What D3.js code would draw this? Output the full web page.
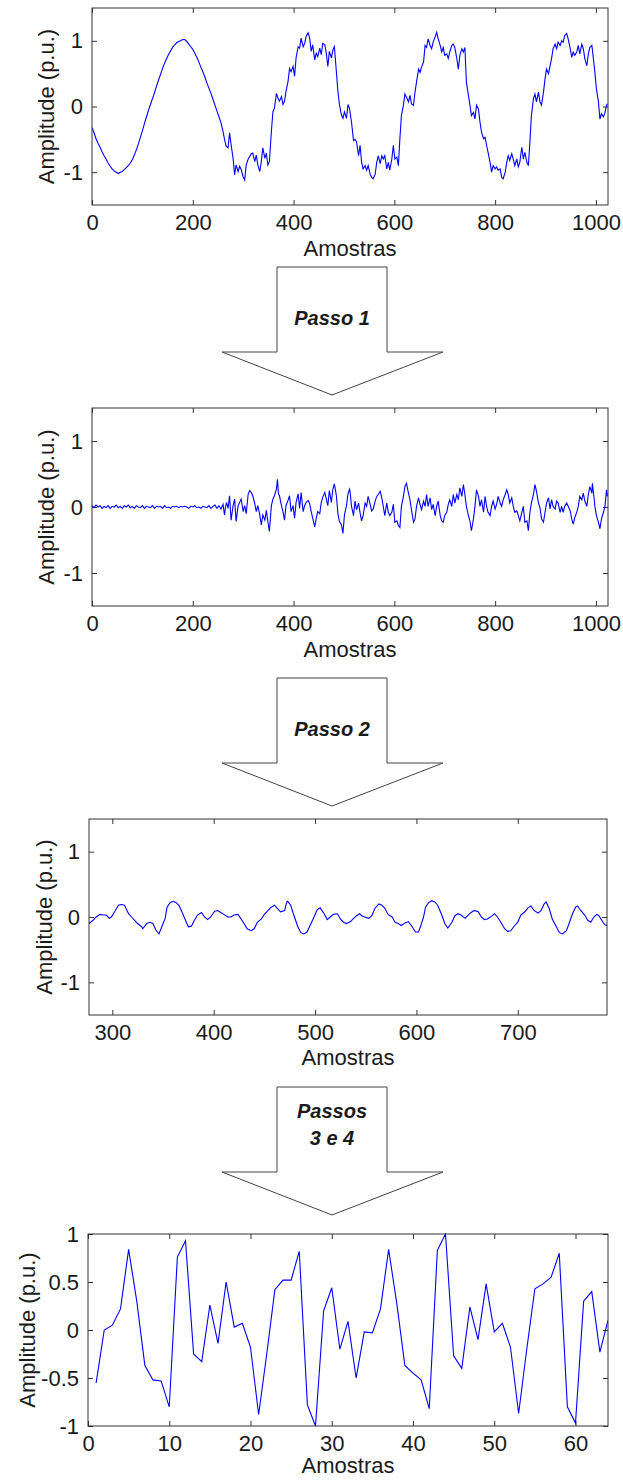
<!DOCTYPE html>
<html>
<head>
<meta charset="utf-8">
<script src="https://cdn.jsdelivr.net/npm/d3@7"></script>
<style>
body { margin: 0; background: #fff; }
text { font-family: "Liberation Sans", Arial, sans-serif; fill: #1a1a1a; }
</style>
</head>
<body>
<div id="chart"></div>
<script>
// ---- data: [sample, amplitude] ----
var rawSignal = [[0,-0.32],[4,-0.4],[8,-0.49],[12,-0.56],[16,-0.62],[20,-0.69],[24,-0.75],[28,-0.8],[32,-0.86],[36,-0.91],[40,-0.95],[44,-0.98],[48,-1.0],[52,-1.02],[56,-1.0],[60,-0.99],[64,-0.96],[68,-0.93],[72,-0.9],[76,-0.86],[80,-0.81],[84,-0.74],[88,-0.66],[92,-0.57],[96,-0.47],[100,-0.37],[104,-0.26],[108,-0.16],[112,-0.06],[116,0.03],[120,0.12],[124,0.21],[128,0.31],[132,0.4],[136,0.49],[140,0.58],[144,0.66],[148,0.73],[152,0.79],[156,0.85],[160,0.9],[164,0.94],[168,0.97],[172,0.99],[176,1.0],[180,1.02],[184,1.02],[188,0.99],[192,0.95],[196,0.91],[200,0.87],[204,0.81],[208,0.75],[212,0.68],[216,0.6],[220,0.53],[224,0.45],[228,0.36],[232,0.28],[236,0.2],[240,0.11],[244,0.02],[248,-0.07],[252,-0.16],[256,-0.25],[260,-0.38],
  [263,-0.5],[266,-0.6],[270,-0.63],[273,-0.4],[276,-0.58],[280,-0.79],[283,-1.04],[286,-0.89],[290,-0.99],[293,-0.91],[296,-0.96],[300,-1.07],[303,-1.12],[306,-0.89],[310,-0.8],[313,-0.76],[316,-0.72],[319,-0.71],[323,-0.84],[326,-0.74],[329,-0.89],[333,-0.99],[336,-0.84],[339,-0.63],[343,-0.79],[346,-0.71],[349,-0.89],[352,-0.84],[356,-0.38],[359,-0.08],[362,-0.03],[366,0.2],[369,0.13],[372,0.08],[376,0.15],[379,0.03],[382,0.08],[385,0.23],[389,0.38],[392,0.58],[395,0.53],[399,0.61],[402,0.46],[405,0.74],[409,0.91],[412,0.89],[415,1.04],[419,0.91],[422,0.96],[425,1.07],[429,1.12],[432,1.04],[435,0.84],[438,0.94],[442,0.71],[445,0.81],[448,0.76],[452,0.89],[455,0.79],[458,0.96],[462,0.94],[465,0.81],[468,0.61],[471,0.84],[475,0.74],[478,0.86],[481,0.91],[485,0.53],[488,0.23],[491,0.03],[495,-0.13],[498,-0.18],[501,-0.08],[505,-0.18],[508,0.03],[511,-0.03],
  [515,-0.24],[519,-0.52],[522,-0.5],[525,-0.54],[529,-0.75],[532,-0.59],[535,-0.85],[538,-0.95],[542,-0.9],[545,-0.97],[548,-0.9],[552,-1.03],[555,-1.08],[558,-1.1],[562,-1.03],[565,-0.85],[568,-0.75],[572,-0.87],[575,-0.75],[578,-0.8],[581,-0.75],[585,-0.95],[588,-0.85],[591,-0.97],[595,-0.8],[598,-0.59],[601,-0.8],[605,-0.77],[608,-0.9],[611,-0.49],[614,-0.14],[618,0.02],[621,0.19],[624,0.14],[628,0.07],[631,0.17],[634,0.04],[638,0.02],[641,0.22],[644,0.37],[648,0.57],[651,0.52],[654,0.6],[658,0.68],[661,0.93],[664,0.9],[667,1.03],[671,0.93],[674,0.88],[677,0.98],[681,1.06],[684,1.13],[687,1.03],[691,0.93],[694,0.83],[697,0.9],[700,0.78],[704,0.8],[707,0.73],[710,0.83],[714,0.93],[717,0.95],[720,0.9],[724,0.73],[727,0.57],[730,0.78],[734,0.88],[737,0.83],[740,0.9],[743,0.37],[747,0.17],[750,0.02],[753,-0.14],[757,-0.09],[760,-0.19],[763,0.02],[767,-0.04],
  [770,-0.24],[773,-0.39],[777,-0.49],[780,-0.47],[783,-0.59],[786,-0.7],[790,-0.85],[793,-1.0],[796,-0.9],[800,-0.95],[803,-0.92],[806,-0.97],[810,-0.95],[813,-1.08],[816,-1.1],[820,-1.0],[823,-0.85],[826,-0.75],[829,-0.82],[833,-0.72],[836,-0.8],[839,-0.9],[843,-0.8],[846,-0.92],[849,-0.85],[853,-0.62],[856,-0.8],[859,-0.7],[863,-0.85],[866,-0.9],[869,-0.54],[872,-0.14],[876,0.12],[879,0.19],[882,0.07],[886,0.22],[889,0.07],[892,0.02],[896,0.22],[899,0.42],[902,0.57],[906,0.5],[909,0.62],[912,0.73],[915,0.88],[919,0.95],[922,0.88],[925,0.98],[929,0.93],[932,1.0],[935,0.98],[938,1.08],[942,1.11],[945,1.03],[949,0.88],[952,0.75],[955,0.83],[958,0.78],[962,0.83],[965,0.93],[968,0.8],[972,0.95],[975,0.88],[978,0.73],[982,0.62],[985,0.8],[988,0.9],[992,0.93],[995,0.73],[998,0.52],[1001,0.27],[1005,0.07],[1008,-0.19],[1011,-0.11],[1015,-0.16],[1018,-0.09],[1021,0.02],[1023,0.04]];

var step1Signal = [[0,0.02],[4,-0.01],[8,0.03],[12,0.0],[16,0.02],[20,-0.02],[24,0.01],[28,-0.01],[32,0.02],[36,-0.02],[40,0.01],[44,0.0],[48,0.03],[52,-0.01],[56,0.01],[60,-0.02],[64,0.02],[68,0.0],[72,0.03],[76,-0.01],[80,0.01],[84,-0.02],[88,0.02],[92,0.0],[96,-0.01],[100,0.02],[104,-0.02],[108,0.01],[112,0.0],[116,-0.01],[120,0.02],[124,-0.02],[128,0.01],[132,0.0],[136,0.01],[140,-0.02],[144,0.02],[148,-0.01],[152,0.0],[156,-0.02],[160,0.01],[164,0.0],[168,0.01],[172,-0.01],[176,0.01],[180,0.0],[184,0.01],[188,0.0],[192,-0.02],[196,0.01],[200,0.0],[204,0.02],[208,-0.01],[212,0.0],[216,-0.02],[220,0.01],[224,0.0],[228,-0.01],[232,0.02],[236,-0.02],[240,0.01],[244,0.03],[248,-0.02],[252,0.02],[256,-0.03],[260,0.04],
  [263,-0.12],[265,0.0],[267,0.07],[270,-0.02],[273,0.17],[276,-0.2],[280,0.02],[283,0.12],[286,-0.22],[290,0.02],[293,0.07],[296,0.12],[300,-0.07],[303,0.02],[306,-0.1],[310,0.2],[313,0.25],[316,0.22],[319,0.17],[323,0.05],[326,-0.07],[329,0.02],[333,-0.12],[336,-0.27],[339,-0.12],[343,-0.2],[346,-0.05],[349,-0.22],[352,-0.37],[356,0.02],[359,0.12],[362,0.17],[366,0.27],[368,0.42],[370,0.2],[372,0.17],[376,0.02],[379,-0.07],[382,-0.2],[385,0.02],[389,0.1],[392,0.17],[395,-0.07],[399,0.02],[402,-0.17],[405,0.07],[409,0.2],[412,-0.02],[415,0.22],[419,-0.07],[422,0.02],[425,0.07],[429,0.1],[432,0.05],[435,-0.07],[438,-0.17],[442,-0.3],[445,-0.17],[448,-0.07],[452,-0.1],[455,0.07],[458,0.15],[462,0.22],[465,0.12],[468,0.02],[471,0.25],[475,0.07],[478,0.27],[481,0.35],[485,0.17],[488,-0.1],[491,-0.22],[495,-0.27],[498,-0.4],[501,-0.12],[505,0.02],[508,0.2],[511,0.27],
  [512,0.24],[515,0.01],[519,-0.13],[522,0.09],[525,-0.04],[529,0.06],[532,-0.09],[535,-0.21],[538,-0.13],[542,0.06],[545,0.01],[548,0.16],[552,0.04],[555,-0.06],[558,-0.03],[562,0.09],[565,0.16],[568,0.19],[572,0.24],[575,0.14],[578,0.01],[581,-0.13],[585,0.06],[588,-0.08],[591,-0.13],[595,-0.08],[598,0.04],[601,-0.23],[605,-0.21],[608,-0.28],[611,-0.31],[614,0.01],[618,0.16],[621,0.31],[624,0.36],[628,0.21],[631,0.11],[634,-0.04],[638,-0.23],[641,-0.18],[644,0.01],[648,0.14],[651,0.04],[654,-0.04],[658,0.09],[661,0.01],[664,0.19],[667,0.01],[671,0.14],[674,-0.04],[677,0.04],[681,-0.13],[684,0.01],[687,0.09],[691,-0.13],[694,-0.21],[697,-0.23],[700,-0.13],[704,-0.08],[707,0.04],[710,0.11],[714,0.01],[717,0.19],[720,0.06],[724,0.19],[727,0.11],[730,0.29],[734,0.16],[737,0.34],[740,0.19],[743,0.01],[747,-0.13],[750,-0.21],[753,-0.36],[757,-0.18],[760,0.01],[763,0.26],[767,0.16],
  [770,0.01],[773,0.11],[777,-0.08],[780,0.16],[783,0.01],[786,-0.08],[790,-0.13],[793,0.01],[796,0.09],[800,-0.03],[803,0.04],[806,0.16],[810,0.06],[813,0.01],[816,0.11],[820,0.19],[823,0.26],[826,0.19],[829,0.06],[833,0.14],[836,0.01],[839,-0.08],[843,-0.06],[846,-0.13],[849,-0.21],[853,-0.08],[856,0.01],[859,-0.23],[863,-0.21],[866,-0.36],[869,-0.08],[872,0.06],[876,0.19],[879,0.34],[882,0.24],[886,0.06],[889,-0.01],[892,-0.18],[896,-0.23],[899,-0.08],[902,0.06],[906,0.14],[909,-0.03],[912,0.11],[915,0.01],[919,-0.03],[922,0.09],[925,0.06],[929,-0.08],[932,0.01],[935,-0.08],[938,0.01],[942,0.06],[945,0.01],[949,-0.06],[952,-0.18],[955,-0.26],[958,-0.16],[962,-0.08],[965,0.01],[968,0.16],[972,0.11],[975,0.21],[978,0.09],[982,0.01],[985,0.19],[988,0.31],[992,0.21],[993,0.36],[996,0.16],[998,0.01],[1001,-0.13],[1005,-0.23],[1008,-0.33],[1011,-0.18],[1015,-0.08],[1018,0.01],[1021,0.26],[1023,0.16]];

var step2Signal = [[277,-0.1],[281,-0.05],[284,0],[288,0.04],[291,0.03],[294,0.03],[297,-0.02],[299,0.0],[303,0.1],[306,0.18],[309,0.19],[312,0.18],[316,0.05],[319,0.0],[322,-0.05],[325,-0.1],[329,-0.15],[330,-0.18],[334,-0.1],[337,-0.08],[340,-0.1],[343,-0.2],[346,-0.26],[348,-0.18],[352,-0.03],[354,0.15],[357,0.22],[360,0.24],[363,0.22],[366,0.17],[370,0.03],[373,-0.08],[375,-0.15],[378,-0.14],[381,-0.05],[384,0.03],[388,0.07],[391,0.0],[394,-0.04],[397,0.0],[401,0.09],[404,0.1],[407,0.07],[410,0.04],[414,0.0],[417,0.0],[420,0.03],[424,0.04],[427,-0.03],[430,-0.1],[433,-0.18],[437,-0.21],[440,-0.18],[443,-0.08],[447,-0.03],[450,0.04],[453,0.09],[456,0.14],[460,0.18],[463,0.13],[466,0.08],[470,0.1],[472,0.23],[473,0.24],[476,0.18],[479,0.03],[483,-0.15],[486,-0.24],[489,-0.26],[492,-0.23],[496,-0.1],[499,0.0],[502,0.11],[505,0.14],[509,0.05],[512,-0.04],[515,0.0],[518,0.04],[522,0.05],[525,-0.03],[528,-0.08],[531,-0.1],
  [535,-0.07],[538,-0.02],[541,0.02],[544,0.05],[546,0.02],[549,0.0],[553,-0.02],[556,0.02],[559,0.13],[563,0.2],[566,0.18],[569,0.13],[572,0.04],[576,0.0],[579,-0.08],[582,-0.1],[585,-0.13],[589,-0.09],[592,-0.07],[595,-0.13],[599,-0.23],[602,-0.23],[604,-0.15],[607,0.0],[609,0.15],[612,0.22],[615,0.25],[618,0.23],[621,0.18],[625,0.03],[628,-0.1],[631,-0.17],[635,-0.08],[638,0.02],[641,0.05],[644,0.03],[648,-0.02],[651,0.03],[654,0.07],[657,0.1],[661,0.08],[664,0.0],[667,-0.04],[670,-0.03],[674,0.01],[677,0.05],[680,0.0],[684,-0.1],[687,-0.18],[690,-0.22],[693,-0.21],[697,-0.13],[700,-0.08],[703,0.03],[707,0.08],[710,0.14],[713,0.17],[716,0.1],[720,0.06],[723,0.1],[726,0.2],[728,0.23],[731,0.13],[734,-0.03],[738,-0.15],[741,-0.24],[744,-0.26],[748,-0.21],[751,-0.08],[754,0.05],[757,0.15],[759,0.17],[762,0.1],[766,0.03],[769,-0.05],[772,-0.08],[775,0.0],[778,0.04],[780,0.02],[784,-0.08],[786,-0.12],[788,-0.13]];

// steps 3 and 4: 64 samples
var step34Samples = d3.range(1, 65);
var step34Values = [-0.55,0.0,0.05,0.22,0.84,0.3,-0.37,-0.52,-0.53,-0.8,0.76,0.93,-0.25,-0.33,0.26,-0.14,0.5,0.03,0.07,-0.18,-0.88,-0.25,0.42,0.52,0.52,0.82,-0.78,-1.0,0.2,0.44,-0.2,0.09,-0.5,-0.02,-0.03,0.22,0.84,0.28,-0.37,-0.45,-0.52,-0.82,0.83,1.0,-0.27,-0.4,0.24,-0.1,0.48,-0.02,0.07,-0.18,-0.87,-0.2,0.43,0.48,0.55,0.8,-0.8,-0.97,0.3,0.4,-0.23,0.1];

// tick labels
var xTicksFull = [0, 200, 400, 600, 800, 1000];
var xTicksZoom = [300, 400, 500, 600, 700];
var xTicksBlock = [0, 10, 20, 30, 40, 50, 60];
var yTicksWide = [-1, 0, 1];
var yTicksBlock = [-1, -0.5, 0, 0.5, 1];
var arrowLabels = [["Passo 1"], ["Passo 2"], ["Passos", "3 e 4"]];

var xLabel = "Amostras";
var yLabel = "Amplitude (p.u.)";

// svg area
var svgWidth = 623;
var svgHeight = 1480;
var fontSize = 22;

var svg = d3.select("#chart")
    .append("svg")
    .attr("width", svgWidth)
    .attr("height", svgHeight);

function drawPanel(p, points) {
    var w = p.right - p.left;
    var h = p.bottom - p.top;
    var g = svg.append("g").attr("transform", `translate(${p.left}, ${p.top})`);

    var xScale = d3.scaleLinear().domain(p.xDomain).range([0, w]);
    var yScale = d3.scaleLinear().domain(p.yDomain).range([h, 0]);
    var fmt = d => String(d);

    var axes = [
        g.append("g").attr("transform", `translate(0, ${h})`)
            .call(d3.axisBottom(xScale).tickValues(p.xTicks).tickFormat(fmt).tickSizeInner(-5).tickSizeOuter(0).tickPadding(9)),
        g.append("g")
            .call(d3.axisTop(xScale).tickValues(p.xTicks).tickFormat("").tickSizeInner(-5).tickSizeOuter(0)),
        g.append("g")
            .call(d3.axisLeft(yScale).tickValues(p.yTicks).tickFormat(fmt).tickSizeInner(-5).tickSizeOuter(0).tickPadding(9)),
        g.append("g").attr("transform", `translate(${w}, 0)`)
            .call(d3.axisRight(yScale).tickValues(p.yTicks).tickFormat("").tickSizeInner(-5).tickSizeOuter(0))
    ];
    axes.forEach(function(a) {
        a.select(".domain").remove();
        a.selectAll("line").attr("stroke", "#333");
        a.selectAll("text").attr("font-size", fontSize).attr("font-family", "Liberation Sans, Arial, sans-serif").attr("fill", "#1a1a1a");
    });

    var clipId = "clip" + p.top;
    g.append("clipPath").attr("id", clipId)
        .append("rect").attr("x", 0).attr("y", -1).attr("width", w).attr("height", h + 2);

    var line = d3.line()
        .x(d => xScale(d[0]))
        .y(d => yScale(d[1]));

    g.append("path")
        .datum(points)
        .attr("clip-path", `url(#${clipId})`)
        .attr("fill", "none")
        .attr("stroke", "#0000ff")
        .attr("stroke-width", 1.1)
        .attr("d", line);

    // box
    g.append("rect")
        .attr("width", w)
        .attr("height", h)
        .attr("fill", "none")
        .attr("stroke", "#333")
        .attr("stroke-width", 1);

    // labels
    g.append("text")
        .attr("x", w / 2)
        .attr("y", h + p.xLabelGap)
        .attr("text-anchor", "middle")
        .attr("font-size", fontSize)
        .text(xLabel);

    g.append("text")
        .attr("transform", `translate(${p.yLabelX - p.left}, ${h / 2}) rotate(-90)`)
        .attr("text-anchor", "middle")
        .attr("dy", "0.35em")
        .attr("font-size", fontSize)
        .text(yLabel);
}

function drawArrow(top, lines) {
    var cx = 332, shaftL = 277, shaftR = 387, headL = 222, headR = 443;
    var shoulder = top + 85, tip = top + 128;
    var pts = [[shaftL, top], [shaftR, top], [shaftR, shoulder], [headR, shoulder],
               [cx, tip], [headL, shoulder], [shaftL, shoulder]];
    svg.append("polygon")
        .attr("points", pts.map(d => d.join(",")).join(" "))
        .attr("fill", "#fff")
        .attr("stroke", "#444")
        .attr("stroke-width", 1);

    var t = svg.append("text")
        .attr("text-anchor", "middle")
        .attr("font-size", 20)
        .attr("font-weight", "bold")
        .attr("font-style", "italic");
    var firstY = lines.length == 1 ? top + 58 : top + 31;
    lines.forEach(function(s, i) {
        t.append("tspan").attr("x", cx).attr("y", firstY + i * 27).text(s);
    });
}

var rawPanel = { left: 92, right: 608, top: 8, bottom: 205, xDomain: [0, 1024], yDomain: [-1.5, 1.5], xTicks: xTicksFull, yTicks: yTicksWide, yLabelX: 46, xLabelGap: 51 };
var step1Panel = { left: 92, right: 608, top: 408, bottom: 606, xDomain: [0, 1024], yDomain: [-1.5, 1.5], xTicks: xTicksFull, yTicks: yTicksWide, yLabelX: 46, xLabelGap: 51 };
var step2Panel = { left: 89, right: 607, top: 819, bottom: 1015, xDomain: [277, 788], yDomain: [-1.5, 1.5], xTicks: xTicksZoom, yTicks: yTicksWide, yLabelX: 44, xLabelGap: 50 };
var blockPanel = { left: 88, right: 608, top: 1234, bottom: 1426, xDomain: [0, 64], yDomain: [-1, 1], xTicks: xTicksBlock, yTicks: yTicksBlock, yLabelX: 27, xLabelGap: 47 };

drawPanel(rawPanel, rawSignal);
drawPanel(step1Panel, step1Signal);
drawPanel(step2Panel, step2Signal);
drawPanel(blockPanel, step34Samples.map((s, i) => [s, step34Values[i]]));

drawArrow(267, arrowLabels[0]);
drawArrow(678, arrowLabels[1]);
drawArrow(1087, arrowLabels[2]);
</script>
</body>
</html>
